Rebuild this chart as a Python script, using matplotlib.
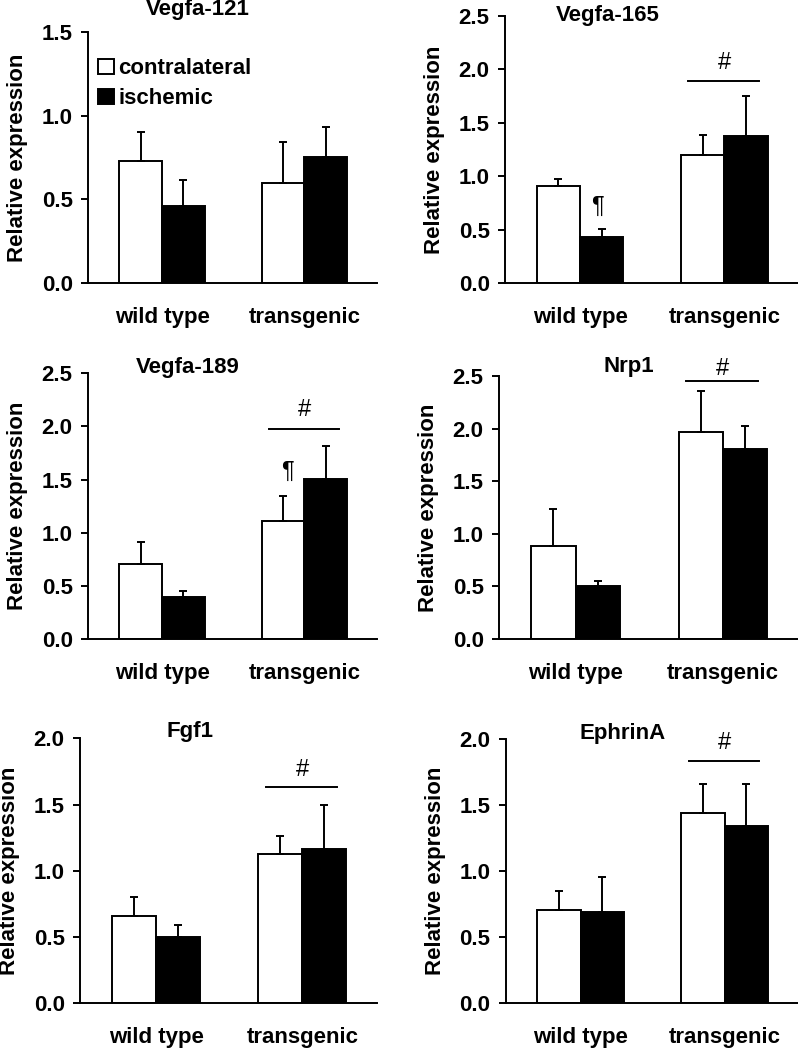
import matplotlib
matplotlib.use("Agg")
import matplotlib.pyplot as plt
from matplotlib.patches import Patch

plt.rcParams["font.family"] = ["Liberation Sans", "DejaVu Sans"]
plt.rcParams["font.weight"] = "bold"
plt.rcParams["axes.labelweight"] = "bold"

genes = ["Vegfa-121", "Vegfa-165", "Vegfa-189", "Nrp1", "Fgf1", "EphrinA"]
groups = ["wild type", "transgenic"]

contra_mean = [[0.73, 0.60], [0.91, 1.20], [0.71, 1.11], [0.88, 1.97], [0.66, 1.13], [0.71, 1.44]]
contra_err = [[0.17, 0.24], [0.065, 0.19], [0.20, 0.235], [0.356, 0.39], [0.143, 0.136], [0.144, 0.22]]
isch_mean = [[0.46, 0.755], [0.436, 1.377], [0.398, 1.502], [0.504, 1.809], [0.503, 1.165], [0.694, 1.345]]
isch_err = [[0.155, 0.18], [0.07, 0.37], [0.057, 0.31], [0.045, 0.22], [0.09, 0.33], [0.26, 0.32]]

y_max = [1.5, 2.5, 2.5, 2.5, 2.0, 2.0]

# "#" over transgenic: (line y, symbol y); None = no mark
hash_marks = [None, (1.89, 2.06), (1.98, 2.15), (2.455, 2.57), (1.635, 1.76), (1.838, 1.97)]
# pilcrow marks: (x, y)
para_marks = [None, (0.12, 0.716), (0.88, 1.57), None, None, None]

# axes boxes in pixels: left, right, top, bottom
boxes = [(88, 377, 32, 283), (505, 798, 15.7, 283.3),
         (88, 377, 373.3, 639), (499, 798, 376, 639),
         (80, 377, 738.3, 1003.3), (505.7, 798, 739.3, 1003.3)]
# title centre in axes fraction
title_pos = [(0.38, 1.088), (0.352, 1.0), (0.346, 1.02), (0.435, 1.035), (0.37, 1.025), (0.40, 1.023)]

W, H = 798, 1050
fig = plt.figure(figsize=(W / 100, H / 100), dpi=100)

fs = 16
lw = 1.4
bw = 0.3
x = [0, 1]

for i, gene in enumerate(genes):
    l, r, t, b = boxes[i]
    ax = fig.add_axes([l / W, (H - b) / H, (r - l) / W, (b - t) / H])
    xw = [p - bw / 2 for p in x]
    xb = [p + bw / 2 for p in x]
    ax.bar(xw, contra_mean[i], bw, color="white", edgecolor="black", linewidth=lw,
           yerr=[[0, 0], contra_err[i]], error_kw=dict(ecolor="black", elinewidth=lw, capsize=3, capthick=lw),
           zorder=2)
    ax.bar(xb, isch_mean[i], bw, color="black", edgecolor="black", linewidth=lw,
           yerr=[[0, 0], isch_err[i]], error_kw=dict(ecolor="black", elinewidth=lw, capsize=3, capthick=lw),
           zorder=2)
    ax.set_xlim(-0.52, 1.51)
    ax.set_ylim(0, y_max[i])
    ax.set_yticks([v * 0.5 for v in range(int(y_max[i] / 0.5) + 1)])
    ax.yaxis.set_major_formatter(matplotlib.ticker.FormatStrFormatter("%.1f"))
    ax.set_xticks(x)
    ax.set_xticklabels(groups)
    ax.spines["top"].set_visible(False)
    ax.spines["right"].set_visible(False)
    ax.spines["left"].set_linewidth(lw)
    ax.spines["bottom"].set_linewidth(lw)
    ax.tick_params(axis="y", length=5, width=lw, pad=6, labelsize=fs)
    ax.tick_params(axis="x", length=0, pad=17, labelsize=fs)
    ax.set_ylabel("Relative expression", fontsize=fs, labelpad=10)
    ax.text(title_pos[i][0], title_pos[i][1], gene, transform=ax.transAxes,
            ha="center", va="center", fontsize=fs, fontweight="bold")

    if hash_marks[i] is not None:
        ly, hy = hash_marks[i]
        ax.plot([0.75, 1.24], [ly, ly], color="black", linewidth=lw, clip_on=False)
        ax.text(1.0, hy, "#", ha="center", va="center", fontsize=fs + 1, fontweight="normal")
    if para_marks[i] is not None:
        px, py = para_marks[i]
        ax.text(px, py, "¶", ha="center", va="center", fontsize=fs + 1, fontweight="normal")

    if i == 0:
        handles = [Patch(facecolor="white", edgecolor="black", linewidth=lw),
                   Patch(facecolor="black", edgecolor="black", linewidth=lw)]
        ax.legend(handles, ["contralateral", "ischemic"], loc="upper left",
                  bbox_to_anchor=(0.035, 0.895), frameon=False, fontsize=fs,
                  handlelength=0.7, handleheight=0.7, handletextpad=0.2,
                  labelspacing=0.4, borderpad=0, borderaxespad=0)

fig.savefig("out.png", dpi=100)
